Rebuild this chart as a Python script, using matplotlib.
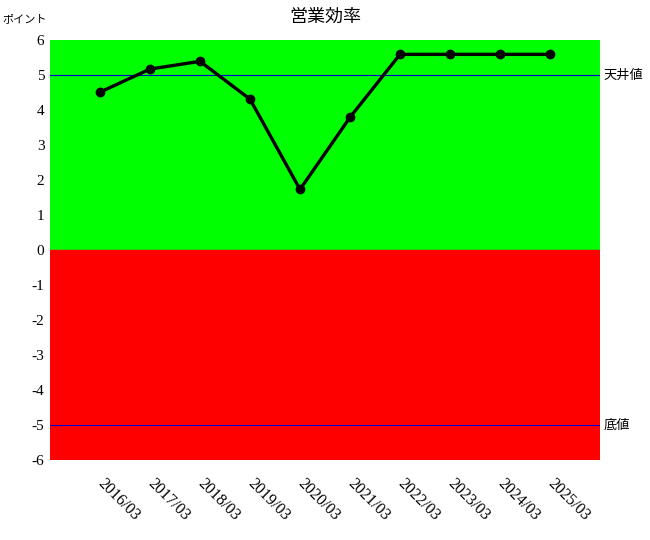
import numpy as np
import matplotlib.pyplot as plt

plt.rcParams['font.family'] = ['Liberation Serif', 'Noto Sans CJK JP', 'DejaVu Sans']

# Data
periods = ["2016/03", "2017/03", "2018/03", "2019/03", "2020/03",
           "2021/03", "2022/03", "2023/03", "2024/03", "2025/03"]
values = [4.51, 5.17, 5.39, 4.31, 1.73, 3.79, 5.59, 5.59, 5.59, 5.59]
ceiling = 5
floor = -5
y_ticks = list(range(-6, 7))

fig = plt.figure(figsize=(6.5, 5.4), dpi=100)
ax = fig.add_axes([50 / 650, 80 / 540, 550 / 650, 420 / 540])

x = np.arange(len(periods))
ax.set_xlim(-1, len(periods))
ax.set_ylim(-6, 6)

# background zones
ax.axhspan(0, 6, color="#00ff00", zorder=0)
ax.axhspan(-6, 0, color="#ff0000", zorder=0)

# reference lines
ax.axhline(ceiling, color="#0000cc", linewidth=0.8, zorder=1)
ax.axhline(floor, color="#0000cc", linewidth=0.8, zorder=1)
ax.text(1.007, ceiling, "天井値", transform=ax.get_yaxis_transform(),
        ha="left", va="center", fontsize=9.5, family=['Noto Sans CJK JP'])
ax.text(1.007, floor, "底値", transform=ax.get_yaxis_transform(),
        ha="left", va="center", fontsize=9.5, family=['Noto Sans CJK JP'])

ax.plot(x, values, color="black", linewidth=2.4, marker="o", markersize=6, zorder=3)

ax.set_yticks(y_ticks)
ax.set_yticklabels([str(v) for v in y_ticks], fontsize=11)
ax.set_xticks(x)
ax.set_xticklabels(periods, rotation=-45, ha="left", va="center",
                   rotation_mode="anchor", fontsize=11.5)
ax.tick_params(axis="both", length=0)
ax.tick_params(axis="x", pad=15)
ax.tick_params(axis="y", pad=4)
for spine in ax.spines.values():
    spine.set_visible(False)

fig.text(325 / 650, 1 - 17 / 540, "営業効率", ha="center", va="center",
         fontsize=13, family=['Noto Sans CJK JP'])
fig.text(2 / 650, 1 - 19 / 540, "ポイント", ha="left", va="center",
         fontsize=8, family=['Noto Sans CJK JP'])

fig.savefig("out.png", dpi=100)
